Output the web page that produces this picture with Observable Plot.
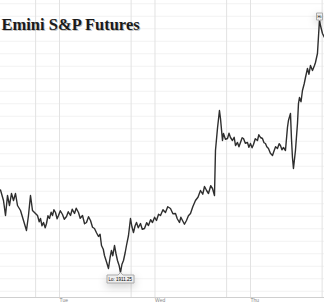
<!DOCTYPE html>
<html>
<head>
<meta charset="utf-8">
<script src="https://cdn.jsdelivr.net/npm/d3@7"></script>
<script src="https://cdn.jsdelivr.net/npm/@observablehq/plot@0.6"></script>
<style>
  html, body { margin: 0; padding: 0; background: #fff; }
  svg { display: block; }
</style>
</head>
<body>
<div id="chart"></div>
<script>
// hours since Mon 2016-02-29 00:00 (UTC)
const hours = [
  9.17, 9.92, 10.43, 10.93, 11.43, 11.93, 12.44, 12.94, 13.44, 14.2, 14.95, 15.7, 16.2, 16.71, 17.21, 17.71,
  18.47, 18.9, 19.22, 19.6, 19.98, 20.4, 20.73, 21.1, 21.48, 21.9, 22.24, 22.6, 22.99, 23.4, 23.75, 24.2,
  24.75, 25.2, 25.76, 26.2, 26.76, 27.2, 27.77, 28.2, 28.77, 29.2, 29.78, 30.3, 30.78, 31.3, 31.79, 32.3,
  32.79, 33.3, 33.8, 34.2, 34.55, 35.0, 35.3, 35.8, 36.31, 36.7, 37.06, 37.4, 37.82, 38.2, 38.57, 39.0,
  39.33, 39.7, 40.08, 40.5, 40.83, 41.34, 41.84, 42.2, 42.59, 43.0, 43.35, 43.8, 44.35, 44.8, 45.36, 45.9,
  46.36, 46.9, 47.37, 47.9, 48.37, 48.9, 49.38, 50.0, 50.63, 51.2, 51.89, 52.5, 53.15, 53.6, 54.15, 54.5,
  54.91, 55.4, 55.91, 56.4, 56.92, 57.5, 58.17, 58.8, 59.43, 60.0, 60.44, 61.0, 61.44, 62.0, 62.45, 62.95,
  63.2, 63.7, 64.2, 64.46, 64.96, 65.21, 65.7, 66.22, 66.6, 66.97, 67.47, 67.9, 68.23, 68.73, 69.1, 69.48,
  69.9, 70.24, 70.7, 71.24, 71.6, 71.99, 72.4, 72.75, 73.2, 73.75, 74.1, 74.51, 75.01, 75.4, 75.76, 76.1,
  76.52, 77.0, 77.53, 77.78, 78.3, 78.78, 79.2, 79.53, 79.9, 80.29, 80.79, 81.29, 81.54, 82.05, 82.3, 82.55,
  82.8, 83.3, 83.81, 84.06, 84.31, 84.7, 85.06, 85.5, 85.82, 86.32, 86.7, 87.07, 87.58, 88.08, 88.33, 88.83,
  89.34, 89.59, 90.09, 90.59
];
const prices = [
  1927.75, 1925.65, 1922.65, 1926.65, 1924.65, 1927.05, 1925.65, 1927.05, 1924.65, 1923.65, 1921.65, 1919.65, 1922.65, 1926.65, 1923.65, 1923.25,
  1922.65, 1921.4, 1922.05, 1920.6, 1921.25, 1920.2, 1921.05, 1922.6, 1922.05, 1923.3, 1922.65, 1923.8, 1923.25, 1922.0, 1922.65, 1923.6,
  1922.85, 1921.9, 1922.45, 1923.4, 1922.65, 1923.9, 1923.05, 1924.1, 1923.25, 1922.1, 1922.65, 1921.0, 1921.25, 1922.4, 1921.65, 1920.3,
  1920.05, 1919.2, 1918.45, 1918.9, 1916.65, 1915.9, 1914.65, 1913.4, 1912.05, 1914.2, 1915.65, 1914.6, 1916.65, 1915.0, 1913.65, 1912.6,
  1911.25, 1912.9, 1913.65, 1915.2, 1916.65, 1918.65, 1922.05, 1920.4, 1919.25, 1920.6, 1921.25, 1920.2, 1921.05, 1919.9, 1920.05, 1921.2,
  1920.65, 1921.8, 1921.25, 1922.3, 1921.65, 1922.9, 1922.65, 1923.8, 1923.25, 1924.4, 1924.05, 1923.0, 1923.05, 1922.0, 1921.25, 1922.3,
  1921.65, 1920.9, 1921.65, 1922.6, 1923.05, 1924.4, 1925.65, 1926.3, 1927.65, 1926.9, 1928.45, 1927.6, 1927.05, 1928.6, 1928.05, 1926.65,
  1935.65, 1940.05, 1943.65, 1942.05, 1937.65, 1939.05, 1937.9, 1938.05, 1939.1, 1938.25, 1937.65, 1938.3, 1936.65, 1937.25, 1936.4, 1937.25,
  1938.2, 1938.05, 1937.1, 1937.25, 1936.3, 1937.05, 1936.2, 1936.85, 1938.0, 1937.65, 1938.8, 1938.25, 1938.05, 1937.2, 1937.05, 1936.4,
  1936.05, 1935.1, 1934.65, 1935.25, 1936.4, 1936.05, 1937.0, 1936.65, 1935.8, 1936.25, 1935.65, 1940.25, 1941.65, 1943.05, 1938.0, 1934.25,
  1932.05, 1935.65, 1941.05, 1945.05, 1946.25, 1945.4, 1947.65, 1949.0, 1950.25, 1952.05, 1950.9, 1952.65, 1951.65, 1952.65, 1953.25, 1955.05,
  1961.75, 1960.65, 1959.05, 1958.25
];
const dayLabels = ["Tue", "Wed", "Thu"];
const dayLabelHours = [24, 48, 72];
const gridHours = [18, 24, 42, 48, 66, 72, 90];
const loLabel = "Lo: 1911.25";
const hiLabel = "Hi";
const title = "Emini S&P Futures";

const base = Date.UTC(2016, 1, 29);
const t = h => new Date(base + h * 3600e3);
const data = hours.map((h, i) => ({date: t(h), price: prices[i]}));
const loIdx = prices.indexOf(d3.min(prices));
const hiIdx = prices.indexOf(d3.max(prices));

const chart = Plot.plot({
  width: 324,
  height: 303,
  marginLeft: 0,
  marginRight: 0,
  marginTop: 0,
  marginBottom: 6,
  style: {background: "#fff", fontFamily: "Liberation Sans, Arial, sans-serif"},
  x: {type: "utc", domain: [t(9.17), t(90.6)], axis: null},
  y: {domain: [1906.25, 1965.65], axis: null},
  marks: [
    Plot.ruleY(d3.range(1907.5, 1966, 2.5), {stroke: "#f2f2f2", strokeWidth: 1}),
    Plot.ruleX(gridHours.map(t), {stroke: "#e2e2e2", strokeWidth: 1}),
    Plot.ruleY([1906.25], {stroke: "#cfcfcf"}),
    Plot.text(dayLabelHours.map(t), {x: d => d, text: (d, i) => dayLabels[i], frameAnchor: "bottom", textAnchor: "start", lineAnchor: "top", dy: 1, fontSize: 5, fill: "#888"}),
    Plot.text([title], {text: d => d, frameAnchor: "top-left", dx: 2, dy: 30, lineAnchor: "bottom", fontSize: 16.5, fontWeight: "bold", fontFamily: "Liberation Serif, Times New Roman, serif", fill: "#999", fillOpacity: 0.6}),
    Plot.text([title], {text: d => d, frameAnchor: "top-left", dx: 1, dy: 29, lineAnchor: "bottom", fontSize: 16.5, fontWeight: "bold", fontFamily: "Liberation Serif, Times New Roman, serif", fill: "#1a1a1a"}),
    Plot.line(data, {x: "date", y: "price", stroke: "#2e2e2e", strokeWidth: 1.4}),
    Plot.tip([data[loIdx]], {x: "date", y: "price", anchor: "top", title: () => loLabel, fontSize: 4.5, pointerSize: 5, textPadding: 1.5, fill: "#eee", stroke: "#aaa"}),
    Plot.tip([data[hiIdx]], {x: "date", y: "price", anchor: "bottom", title: () => hiLabel, fontSize: 4, pointerSize: 1, textPadding: 1, fill: "#eee", stroke: "#aaa"})
  ]
});
document.getElementById("chart").appendChild(chart);
</script>
</body>
</html>
